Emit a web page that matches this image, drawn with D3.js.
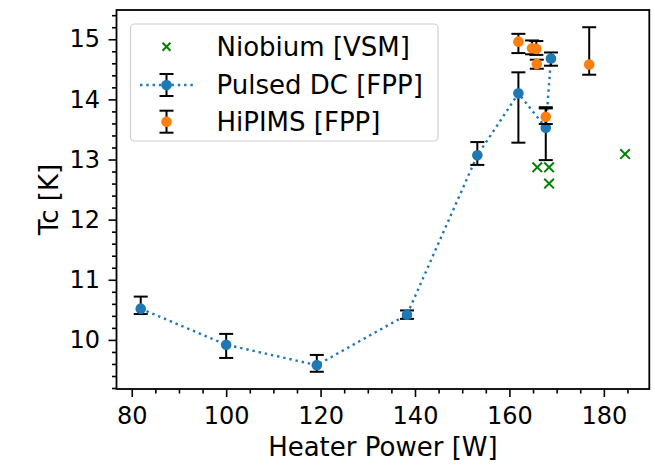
<!DOCTYPE html>
<html><head><meta charset="utf-8">
<script src="https://cdn.jsdelivr.net/npm/d3@7"></script>
<style>body{margin:0;background:#fff}svg{display:block}text{font-family:"DejaVu Sans",sans-serif;fill:#000}</style>
</head><body><svg id="c" width="655" height="469"></svg>
<script>
// Data
const niobiumPower = [165.9, 168.4, 168.4, 184.5];
const niobiumTc    = [12.87, 12.87, 12.60, 13.09];

const pulsedPower   = [81.9, 100.0, 119.2, 138.3, 153.2, 161.9, 167.7, 168.8];
const pulsedTc      = [10.52, 9.92, 9.58, 10.42, 13.07, 14.10, 13.53, 14.68];
const pulsedErrLow  = [0.09, 0.22, 0.11, 0.07, 0.16, 0.82, 0.54, 0.12];
const pulsedErrHigh = [0.20, 0.18, 0.17, 0.07, 0.22, 0.35, 0.32, 0.10];

const hipimsPower   = [161.9, 164.8, 165.7, 165.8, 167.7, 176.9];
const hipimsTc      = [14.96, 14.85, 14.84, 14.59, 13.71, 14.58];
const hipimsErrLow  = [0.19, 0.10, 0.10, 0.08, 0.12, 0.17];
const hipimsErrHigh = [0.13, 0.13, 0.13, 0.07, 0.16, 0.62];

const xTicks = [80, 100, 120, 140, 160, 180];
const yTicks = [10, 11, 12, 13, 14, 15];
const legendLabels = ["Niobium [VSM]", "Pulsed DC [FPP]", "HiPIMS [FPP]"];
const xLabel = "Heater Power [W]";
const yLabel = "Tc [K]";

const BLUE = "#1f77b4", ORANGE = "#ff7f0e", GREEN = "#008000";
const svg = d3.select("#c");
const L = 116.5, R = 649.3, T = 10, B = 389;

// domain with matplotlib-like 5% margins
const allX = niobiumPower.concat(pulsedPower, hipimsPower);
const allY = niobiumTc.concat(pulsedTc.map((v,i)=>v-pulsedErrLow[i]), pulsedTc.map((v,i)=>v+pulsedErrHigh[i]),
  hipimsTc.map((v,i)=>v-hipimsErrLow[i]), hipimsTc.map((v,i)=>v+hipimsErrHigh[i]));
const xe = d3.extent(allX), ye = d3.extent(allY);
const xp = (xe[1]-xe[0])*0.05, yp = (ye[1]-ye[0])*0.05;
const x = d3.scaleLinear().domain([xe[0]-xp, xe[1]+xp]).range([L, R]);
const y = d3.scaleLinear().domain([ye[0]-yp, ye[1]+yp]).range([B, T]);

// axes
const xMinor = d3.range(80, 190, 5).filter(v => v%20 !== 0 && v >= x.domain()[0] && v <= x.domain()[1]);
const yMinor = d3.range(9.2, 15.5, 0.2).map(v=>+v.toFixed(1)).filter(v => Math.abs(v-Math.round(v))>1e-6 && v>=y.domain()[0] && v<=y.domain()[1]);

const gx = svg.append("g").attr("transform", `translate(0,${B})`);
gx.call(d3.axisBottom(x).tickValues(xTicks).tickSize(8).tickPadding(10).tickFormat(d3.format("d")));
const gxm = svg.append("g").attr("transform", `translate(0,${B})`);
gxm.call(d3.axisBottom(x).tickValues(xMinor).tickSize(4.5).tickFormat(""));
const gy = svg.append("g").attr("transform", `translate(${L},0)`);
gy.call(d3.axisLeft(y).tickValues(yTicks).tickSize(8).tickPadding(8.5).tickFormat(d3.format("d")));
const gym = svg.append("g").attr("transform", `translate(${L},0)`);
gym.call(d3.axisLeft(y).tickValues(yMinor).tickSize(4.5).tickFormat(""));
[gx,gxm,gy,gym].forEach(g=>{ g.select(".domain").remove(); g.selectAll("line").attr("stroke","#000").attr("stroke-width",1.6); g.selectAll("text").style("font-size","24px").attr("fill","#000"); });

// spines
svg.append("rect").attr("x",L).attr("y",T).attr("width",R-L).attr("height",B-T).attr("fill","none").attr("stroke","#000").attr("stroke-width",1.8);

// labels
svg.append("text").attr("x",(L+R)/2).attr("y",456).attr("text-anchor","middle").style("font-size","26px").text(xLabel);
svg.append("text").attr("transform",`translate(58,${(T+B)/2}) rotate(-90)`).attr("text-anchor","middle").style("font-size","26px").text(yLabel);

// Niobium markers
function xMark(g, cx, cy, s, col){
  g.append("path").attr("d",`M${cx-s},${cy-s}L${cx+s},${cy+s}M${cx-s},${cy+s}L${cx+s},${cy-s}`).attr("stroke",col).attr("stroke-width",2).attr("fill","none");
}
const gn = svg.append("g");
niobiumPower.forEach((p,i)=> xMark(gn, x(p), y(niobiumTc[i]), 4.8, GREEN));

// error bars
function errbars(g, px, py, lo, hi){
  px.forEach((p,i)=>{
    const cx = x(p), y1 = y(py[i]-lo[i]), y2 = y(py[i]+hi[i]);
    g.append("line").attr("x1",cx).attr("x2",cx).attr("y1",y1).attr("y2",y2).attr("stroke","#000").attr("stroke-width",2);
    [y1,y2].forEach(yy=> g.append("line").attr("x1",cx-7).attr("x2",cx+7).attr("y1",yy).attr("y2",yy).attr("stroke","#000").attr("stroke-width",2));
  });
}
// Pulsed DC
const gp = svg.append("g");
gp.append("path").datum(pulsedPower.map((p,i)=>[p,pulsedTc[i]]))
  .attr("d", d3.line().x(d=>x(d[0])).y(d=>y(d[1])))
  .attr("fill","none").attr("stroke",BLUE).attr("stroke-width",2.4).attr("stroke-dasharray","2.4,3.9");
errbars(gp, pulsedPower, pulsedTc, pulsedErrLow, pulsedErrHigh);
pulsedPower.forEach((p,i)=> gp.append("circle").attr("cx",x(p)).attr("cy",y(pulsedTc[i])).attr("r",5.3).attr("fill",BLUE));
// HiPIMS
const gh = svg.append("g");
errbars(gh, hipimsPower, hipimsTc, hipimsErrLow, hipimsErrHigh);
hipimsPower.forEach((p,i)=> gh.append("circle").attr("cx",x(p)).attr("cy",y(hipimsTc[i])).attr("r",5.3).attr("fill",ORANGE));

// legend
const lg = svg.append("g");
lg.append("rect").attr("x",130.5).attr("y",24).attr("width",307.5).attr("height",117).attr("rx",4)
  .attr("fill","#fff").attr("fill-opacity",0.8).attr("stroke","#d0d0d0").attr("stroke-width",1.2);
const rows = [46.7, 85, 121.7], hx = 166.5;
xMark(lg, hx, rows[0], 4, GREEN);
lg.append("line").attr("x1",140).attr("x2",193).attr("y1",rows[1]).attr("y2",rows[1]).attr("stroke",BLUE).attr("stroke-width",2.4).attr("stroke-dasharray","2.4,3.9");
[rows[1], rows[2]].forEach((ry,k)=>{
  lg.append("line").attr("x1",hx).attr("x2",hx).attr("y1",ry-11).attr("y2",ry+11).attr("stroke","#000").attr("stroke-width",2);
  [ry-11, ry+11].forEach(yy=> lg.append("line").attr("x1",hx-7).attr("x2",hx+7).attr("y1",yy).attr("y2",yy).attr("stroke","#000").attr("stroke-width",2));
  lg.append("circle").attr("cx",hx).attr("cy",ry).attr("r",5.3).attr("fill", k===0?BLUE:ORANGE);
});
legendLabels.forEach((t,i)=> lg.append("text").attr("x",216.5).attr("y",rows[i]).attr("dy","0.36em").style("font-size","26px").text(t));
</script></body></html>
